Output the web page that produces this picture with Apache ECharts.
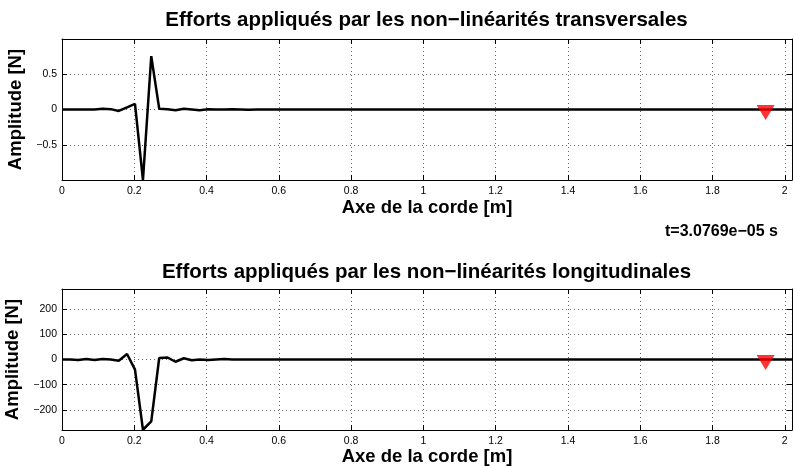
<!DOCTYPE html>
<html><head><meta charset="utf-8">
<script src="https://cdn.jsdelivr.net/npm/echarts@6/dist/echarts.min.js"></script>
<style>html,body{margin:0;padding:0;background:#fff}#c{width:793px;height:466px}</style>
</head><body><div id="c"></div>
<script>
// ---- data ----
const xPositions = [0, 0.022, 0.045, 0.067, 0.090, 0.112, 0.135, 0.157, 0.180, 0.202, 0.224, 0.247, 0.269, 0.292, 0.314, 0.337, 0.359, 0.381, 0.404, 0.426, 0.449, 0.471, 0.494, 0.516, 0.539, 0.561, 0.584, 0.606, 2.02];
const transValues = [0, 0, 0, 0, 0, 0.01, 0.005, -0.02, 0.03, 0.08, -0.99, 0.75, 0.01, 0.005, -0.01, 0.01, 0, -0.01, 0.005, 0, 0, 0.003, 0, -0.003, 0, 0, 0, 0, 0];
const longValues = [0, 0, -2, 2, -2, 2, 0, -5, 22, -40, -279, -246, 6, 8, -9, 5, -3, 0, -2, 0, 2, 0, 0, 0, 0, 0, 0, 0, 0];
const xTicks = [0, 0.2, 0.4, 0.6, 0.8, 1, 1.2, 1.4, 1.6, 1.8, 2];
const yTicksTop = [-0.5, 0, 0.5];
const yTicksBottom = [-200, -100, 0, 100, 200];
const markerX = 1.947;
const titleTop = 'Efforts appliqués par les non\u2212linéarités transversales';
const titleBottom = 'Efforts appliqués par les non\u2212linéarités longitudinales';
const timeLabel = 't=3.0769e\u221205 s';
const xName = 'Axe de la corde [m]';
const yName = 'Amplitude [N]';

const FONT = "'Liberation Sans', Arial, Helvetica, sans-serif";
const fmt = v => String(v).replace('-', '\u2212');

function xAxes(grid, gap) {
  return [{
    gridIndex: grid, type: 'value', min: 0, max: 2.02, position: 'bottom',
    name: xName, nameLocation: 'middle', nameGap: gap,
    nameTextStyle: {fontFamily: FONT, fontWeight: 'bold', fontSize: 18.5, color: '#000'},
    axisLine: {show: true, onZero: false, lineStyle: {color: '#000', width: 1}},
    axisTick: {show: true, inside: true, length: 5, customValues: xTicks, lineStyle: {color: '#000'}},
    axisLabel: {customValues: xTicks, formatter: fmt, fontFamily: FONT, fontSize: 10.5, color: '#000', margin: 6},
    splitLine: {show: true, lineStyle: {type: [1, 3], color: '#666', width: 1}}
  }, {
    gridIndex: grid, type: 'value', min: 0, max: 2.02, position: 'top',
    axisLine: {show: true, onZero: false, lineStyle: {color: '#000', width: 1}},
    axisTick: {show: true, inside: true, length: 5, customValues: xTicks, lineStyle: {color: '#000'}},
    axisLabel: {show: false}, splitLine: {show: false}
  }];
}
function yAxes(grid, lim, ticks) {
  return [{
    gridIndex: grid, type: 'value', min: -lim, max: lim, position: 'left',
    name: yName, nameLocation: 'middle', nameGap: 31,
    nameTextStyle: {fontFamily: FONT, fontWeight: 'bold', fontSize: 18.5, color: '#000'},
    axisLine: {show: true, onZero: false, lineStyle: {color: '#000', width: 1}},
    axisTick: {show: true, inside: true, length: 5, customValues: ticks, lineStyle: {color: '#000'}},
    axisLabel: {customValues: ticks, formatter: fmt, fontFamily: FONT, fontSize: 10.5, color: '#000', margin: 5},
    splitLine: {show: true, lineStyle: {type: [1, 3], color: '#666', width: 1}}
  }, {
    gridIndex: grid, type: 'value', min: -lim, max: lim, position: 'right',
    axisLine: {show: true, onZero: false, lineStyle: {color: '#000', width: 1}},
    axisTick: {show: true, inside: true, length: 5, customValues: ticks, lineStyle: {color: '#000'}},
    axisLabel: {show: false}, splitLine: {show: false}
  }];
}
const pairs = vals => xPositions.map((x, i) => [x, vals[i]]);

const chart = echarts.init(document.getElementById('c'), null, {renderer: 'canvas'});
chart.setOption({
  animation: false,
  backgroundColor: '#fff',
  grid: [
    {left: 62, top: 39, width: 730, height: 141, containLabel: false, outerBoundsMode: 'none'},
    {left: 62, top: 289, width: 730, height: 141, containLabel: false, outerBoundsMode: 'none'}
  ],
  xAxis: [...xAxes(0, 18), ...xAxes(1, 13)],
  yAxis: [...yAxes(0, 0.99, yTicksTop), ...yAxes(1, 280, yTicksBottom)],
  graphic: [
    {type: 'text', x: 426.5, y: 20, style: {text: titleTop, font: 'bold 20.5px ' + FONT, fill: '#000', align: 'center', verticalAlign: 'middle'}},
    {type: 'text', x: 426.5, y: 272, style: {text: titleBottom, font: 'bold 20.5px ' + FONT, fill: '#000', align: 'center', verticalAlign: 'middle'}},
    {type: 'text', x: 778, y: 232, style: {text: timeLabel, font: 'bold 16px ' + FONT, fill: '#000', align: 'right', verticalAlign: 'middle'}}
  ],
  series: [
    {type: 'line', xAxisIndex: 0, yAxisIndex: 0, data: pairs(transValues), showSymbol: false, lineStyle: {color: '#000', width: 2.5}, z: 3},
    {type: 'scatter', xAxisIndex: 0, yAxisIndex: 0, data: [[markerX, 0]], symbol: 'triangle', symbolRotate: 180, symbolSize: [18, 15], symbolOffset: [0, 3], itemStyle: {color: '#ff0000'}, z: 5},
    {type: 'line', xAxisIndex: 2, yAxisIndex: 2, data: pairs(longValues), showSymbol: false, lineStyle: {color: '#000', width: 2.5}, z: 3},
    {type: 'scatter', xAxisIndex: 2, yAxisIndex: 2, data: [[markerX, 0]], symbol: 'triangle', symbolRotate: 180, symbolSize: [18, 15], symbolOffset: [0, 3], itemStyle: {color: '#ff0000'}, z: 5}
  ]
});
</script>
</body></html>
